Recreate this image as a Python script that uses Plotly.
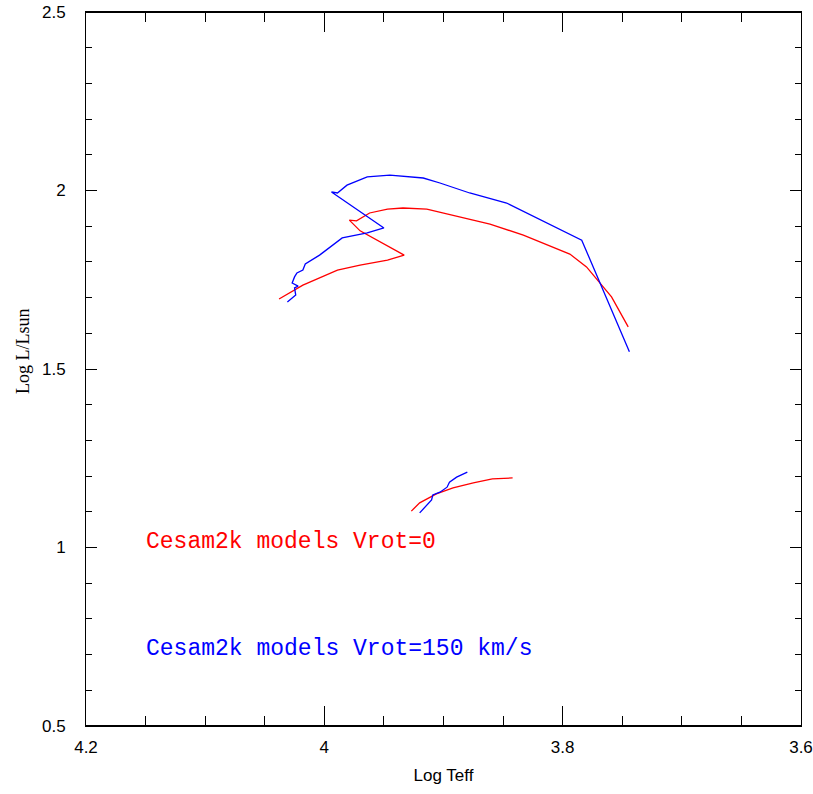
import plotly.graph_objects as go

# Red track, Vrot=0 (upper)
red1_x = [4.038, 4.018, 3.989, 3.970, 3.947, 3.933, 3.970, 3.979, 3.973, 3.962, 3.947, 3.934,
          3.914, 3.878, 3.861, 3.833, 3.794, 3.780, 3.759, 3.745]
red1_y = [1.696, 1.735, 1.777, 1.791, 1.805, 1.819, 1.887, 1.917, 1.915, 1.937, 1.948, 1.951,
          1.948, 1.920, 1.906, 1.875, 1.822, 1.786, 1.702, 1.618]
# Blue track, Vrot=150 km/s (upper)
blue1_x = [4.031, 4.024, 4.025, 4.022, 4.027, 4.025, 4.023, 4.018, 4.016, 4.004, 3.985, 3.964,
           3.950, 3.994, 3.989, 3.981, 3.964, 3.945, 3.917, 3.903, 3.878, 3.847, 3.784, 3.744]
blue1_y = [1.688, 1.707, 1.727, 1.732, 1.741, 1.758, 1.769, 1.777, 1.794, 1.819, 1.867, 1.881,
           1.895, 1.996, 1.993, 2.015, 2.038, 2.043, 2.035, 2.021, 1.993, 1.965, 1.861, 1.548]
# Lower tracks
red2_x = [3.927, 3.920, 3.906, 3.892, 3.875, 3.859, 3.842]
red2_y = [1.102, 1.125, 1.150, 1.167, 1.181, 1.192, 1.195]
blue2_x = [3.920, 3.914, 3.910, 3.909, 3.903, 3.897, 3.895, 3.889, 3.880]
blue2_y = [1.097, 1.119, 1.133, 1.147, 1.155, 1.169, 1.183, 1.197, 1.211]

labels = ["Cesam2k models Vrot=0", "Cesam2k models Vrot=150 km/s"]
label_x = [4.151, 4.151]
label_y = [1.016, 0.716]

x_title = "Log Teff"
y_title = "Log L/Lsun"

RED = "#ff0000"
BLUE = "#0000ff"

fig = go.Figure()
for xs, ys, c in [(red1_x, red1_y, RED), (blue1_x, blue1_y, BLUE),
                  (red2_x, red2_y, RED), (blue2_x, blue2_y, BLUE)]:
    fig.add_trace(go.Scatter(x=xs, y=ys, mode="lines",
                             line=dict(color=c, width=1.3), showlegend=False))

for t, xx, yy, c in zip(labels, label_x, label_y, [RED, BLUE]):
    fig.add_annotation(x=xx, y=yy, text=t, showarrow=False, xanchor="left", yanchor="middle",
                       font=dict(family="Liberation Mono", size=23, color=c))

# y-axis title placed as rotated annotation
fig.add_annotation(xref="paper", yref="paper", x=(23 - 86) / 715, y=(726 - 351) / 714,
                   text=y_title, textangle=-90, showarrow=False,
                   xanchor="center", yanchor="middle",
                   font=dict(family="Liberation Serif", size=18, color="black"))

tickfont = dict(family="Liberation Sans", size=17, color="black")
fig.update_layout(
    width=813, height=794,
    margin=dict(l=86, r=12, t=12, b=68, autoexpand=False),
    plot_bgcolor="white", paper_bgcolor="white",
    font=dict(family="Liberation Sans", size=17, color="black"),
)
fig.update_xaxes(range=[4.2, 3.6], dtick=0.2, tick0=3.6, ticks="inside", ticklen=20,
                 tickwidth=1, tickcolor="black", showline=True, linecolor="black",
                 linewidth=1, mirror="ticks", showgrid=False, zeroline=False,
                 automargin=False, tickfont=tickfont,
                 minor=dict(dtick=0.05, tick0=3.6, ticks="inside", ticklen=10,
                            tickcolor="black", showgrid=False),
                 title=dict(text=x_title, font=dict(family="Liberation Sans", size=17),
                            standoff=12),
                 ticklabelstandoff=6)
fig.update_yaxes(range=[0.5, 2.5], dtick=0.5, tick0=0.5, ticks="inside", ticklen=11,
                 tickwidth=1, tickcolor="black", showline=True, linecolor="black",
                 linewidth=1, mirror="ticks", showgrid=False, zeroline=False,
                 automargin=False, tickfont=tickfont,
                 minor=dict(dtick=0.1, tick0=0.5, ticks="inside", ticklen=6,
                            tickcolor="black", showgrid=False),
                 ticklabelstandoff=16)
# thicker top and bottom frame lines
for yy in [0, 1]:
    fig.add_shape(type="line", xref="paper", yref="paper", x0=0, x1=1, y0=yy, y1=yy,
                  line=dict(color="black", width=2.2))

fig.write_html("out.html", config={"displayModeBar": False},
               post_script="document.body.style.margin='0';")
